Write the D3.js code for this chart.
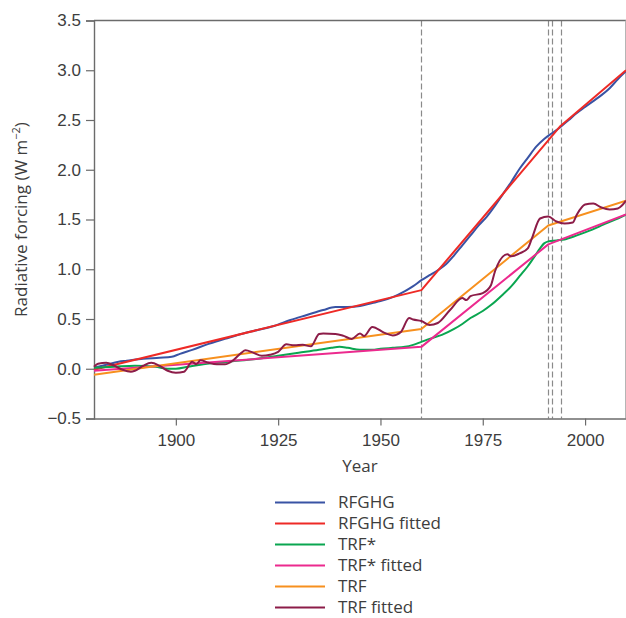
<!DOCTYPE html>
<html>
<head>
<meta charset="utf-8">
<script src="https://cdn.jsdelivr.net/npm/d3@7"></script>
<style>
  html, body { margin: 0; padding: 0; background: #fff; }
  svg { display: block; font-family: "Open Sans", "Noto Sans", sans-serif; }
</style>
</head>
<body>
<svg id="chart" width="626" height="618"></svg>
<script>
// ---------- data ----------
const rfghgYears = [1880,1883,1886,1888,1892,1896,1899,1901,1904,1908,1912,1916,1920,1924,1928,1932,1936,1939,1942,1945,1948,1950,1953,1956,1958,1960,1962,1964,1966,1968,1970,1972,1974,1976,1978,1980,1982,1984,1986,1988,1990,1992,1994,1996,1998,2000,2002,2004,2006,2008,2010];
const rfghgValues = [0.01,0.04,0.07,0.08,0.10,0.11,0.12,0.15,0.19,0.25,0.30,0.35,0.39,0.43,0.49,0.54,0.59,0.62,0.62,0.63,0.66,0.68,0.72,0.78,0.83,0.89,0.94,0.99,1.05,1.14,1.24,1.34,1.44,1.53,1.64,1.76,1.88,2.01,2.12,2.23,2.31,2.37,2.43,2.50,2.57,2.63,2.69,2.75,2.82,2.91,2.99];

const rfghgFitYears = [1880,1960,1994,2010];
const rfghgFitValues = [-0.01,0.79,2.44,3.00];

const trfStarYears = [1880,1885,1890,1895,1898,1900,1903,1906,1910,1915,1920,1925,1930,1935,1938,1940,1942,1945,1948,1950,1953,1956,1958,1960,1962,1965,1968,1970,1972,1975,1977,1980,1982,1984,1986,1988,1989,1990,1991,1993,1995,1998,2000,2003,2005,2008,2010];
const trfStarValues = [0.01,0.02,0.03,0.02,0.00,0.00,0.02,0.04,0.06,0.08,0.10,0.13,0.16,0.19,0.21,0.22,0.21,0.19,0.19,0.20,0.21,0.22,0.24,0.27,0.30,0.34,0.40,0.45,0.51,0.58,0.64,0.75,0.83,0.93,1.03,1.15,1.21,1.26,1.28,1.29,1.30,1.34,1.37,1.42,1.46,1.51,1.55];

const trfStarFitYears = [1880,1960,1991,2010];
const trfStarFitValues = [-0.02,0.22,1.25,1.55];

const trfYears = [1880,1960,1991,2010];
const trfValues = [-0.06,0.40,1.44,1.69];

const trfFitYears = [1880,1881,1883,1885,1887,1889,1890,1892,1894,1896,1898,1900,1902,1904,1905,1906,1908,1910,1912,1914,1916,1917,1919,1921,1923,1925,1927,1929,1931,1933,1935,1936,1939,1941,1943,1945,1946,1948,1951,1953,1955,1957,1958,1960,1962,1964,1967,1970,1971,1972,1975,1977,1978,1981,1982,1984,1986,1987,1989,1991,1993,1995,1997,1998,2000,2002,2004,2006,2008,2009,2010];
const trfFitValues = [0.02,0.05,0.06,0.03,-0.01,-0.03,-0.02,0.03,0.06,0.03,-0.02,-0.04,-0.03,0.07,0.045,0.085,0.06,0.045,0.045,0.085,0.16,0.185,0.16,0.13,0.14,0.17,0.245,0.235,0.24,0.225,0.35,0.355,0.35,0.33,0.30,0.355,0.33,0.42,0.36,0.335,0.37,0.51,0.495,0.48,0.44,0.46,0.59,0.71,0.69,0.73,0.76,0.84,0.98,1.15,1.13,1.16,1.21,1.31,1.51,1.53,1.48,1.46,1.47,1.55,1.65,1.66,1.62,1.60,1.61,1.64,1.69];

const breakYears = [1960,1991,1992,1994];

const xTickValues = [1900,1925,1950,1975,2000];
const yTickValues = [-0.5,0,0.5,1.0,1.5,2.0,2.5,3.0,3.5];

const seriesNames = ["RFGHG","RFGHG fitted","TRF*","TRF* fitted","TRF","TRF fitted"];
const seriesColors = ["#3953a4","#ee2a26","#0aa650","#ec2a8e","#f7901e","#8c1c48"];

// ---------- scales ----------
const svg = d3.select("#chart");
const x = d3.scaleLinear().domain([1880, 2010]).range([94, 626]);
const y = d3.scaleLinear().domain([-0.5, 3.5]).range([418.5, 20.5]);

const axisColor = "#6b6b6b";
const textColor = "#3d3d3d";
const fs = "17px";

// dashed break lines
svg.append("g").selectAll("line").data(breakYears).join("line")
  .attr("x1", d => Math.round(x(d)) + 0.5).attr("x2", d => Math.round(x(d)) + 0.5)
  .attr("y1", y(3.5)).attr("y2", y(-0.5))
  .attr("stroke", "#8a8a8a").attr("stroke-width", 1.2)
  .attr("stroke-dasharray", "6,3");

// frame: top and right
svg.append("line").attr("x1", x(1880)).attr("x2", 626).attr("y1", y(3.5)).attr("y2", y(3.5))
  .attr("stroke", axisColor).attr("stroke-width", 1.4);
svg.append("line").attr("x1", 625.5).attr("x2", 625.5).attr("y1", y(3.5)).attr("y2", y(-0.5))
  .attr("stroke", "#b5b5b5").attr("stroke-width", 1);

// axes
const xAxis = svg.append("g").attr("transform", `translate(0,${y(-0.5)})`)
  .call(d3.axisBottom(x).tickValues(xTickValues).tickSize(7).tickPadding(8).tickFormat(d3.format("d")));
const yAxis = svg.append("g").attr("transform", `translate(${x(1880)},0)`)
  .call(d3.axisLeft(y).tickValues(yTickValues).tickSize(8).tickPadding(5).tickFormat(d3.format(".1f")));

[xAxis, yAxis].forEach(a => {
  a.select(".domain").attr("stroke", axisColor).attr("stroke-width", 1.4);
  a.selectAll(".tick line").attr("stroke", axisColor).attr("stroke-width", 1.2);
  a.selectAll(".tick text").attr("fill", textColor).style("font-size", fs);
});
xAxis.select(".domain").attr("d", `M${x(1880)},0.5H626`);

// axis titles
svg.append("text").attr("x", x(1945)).attr("y", 472)
  .attr("text-anchor", "middle").attr("fill", textColor).style("font-size", fs).text("Year");

const yl = svg.append("text")
  .attr("transform", `translate(27,${y(1.5)}) rotate(-90)`)
  .attr("text-anchor", "middle").attr("fill", textColor).style("font-size", fs);
yl.append("tspan").text("Radiative forcing (W m");
yl.append("tspan").attr("dy", -7).style("font-size", "11px").text("−2");
yl.append("tspan").attr("dy", 7).text(")");

// series
const series = [
  [rfghgYears, rfghgValues, true],
  [rfghgFitYears, rfghgFitValues, false],
  [trfStarYears, trfStarValues, true],
  [trfStarFitYears, trfStarFitValues, false],
  [trfYears, trfValues, false],
  [trfFitYears, trfFitValues, true]
];

const g = svg.append("g");
series.forEach(([ys, vs, smooth], i) => {
  const pts = ys.map((yr, k) => [yr, vs[k]]);
  const line = d3.line().x(d => x(d[0])).y(d => y(d[1]))
    .curve(smooth ? d3.curveMonotoneX : d3.curveLinear);
  g.append("path").datum(pts)
    .attr("d", line)
    .attr("fill", "none")
    .attr("stroke", seriesColors[i])
    .attr("stroke-width", 2)
    .attr("stroke-linejoin", "round");
});

// legend
const leg = svg.append("g");
seriesNames.forEach((name, i) => {
  const yy = 502.5 + i * 21;
  leg.append("line").attr("x1", 275).attr("x2", 325).attr("y1", yy).attr("y2", yy)
    .attr("stroke", seriesColors[i]).attr("stroke-width", 2);
  leg.append("text").attr("x", 338).attr("y", yy + 5.5)
    .attr("fill", textColor).style("font-size", fs).text(name);
});
</script>
</body>
</html>
